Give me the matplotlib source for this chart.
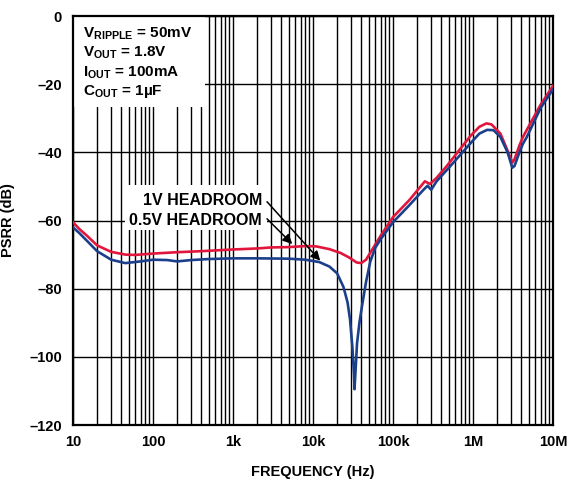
import matplotlib
matplotlib.use("Agg")
import matplotlib.pyplot as plt
from matplotlib.patches import Rectangle
from matplotlib.ticker import FixedLocator, LogLocator, NullFormatter

plt.rcParams['font.family'] = ['Liberation Sans', 'DejaVu Sans']
plt.rcParams['font.weight'] = 'bold'
plt.rcParams['mathtext.fontset'] = 'custom'
plt.rcParams['mathtext.bf'] = 'Liberation Sans:bold'
plt.rcParams['mathtext.rm'] = 'Liberation Sans:bold'

# PSRR vs frequency, 1V headroom (blue)
freq_1v = [10, 12, 15, 20, 30, 45, 70, 100, 150, 200, 300, 500, 1e3, 2e3, 5e3,
           8e3, 12e3, 16e3, 20e3, 24e3, 27e3, 29e3, 31e3, 32.5e3, 33e3, 34e3,
           35.5e3, 38e3, 41e3, 46e3, 52e3, 60e3, 70e3, 100e3, 160e3, 240e3,
           270e3, 300e3, 350e3, 500e3, 1e6, 1.2e6, 1.5e6, 1.8e6, 2.2e6, 2.7e6,
           3.1e6, 3.3e6, 3.8e6, 4.2e6, 4.7e6, 7e6, 10e6]
psrr_1v = [-62, -63.7, -66, -69, -71.5, -72.5, -72, -71.5, -71.6, -72, -71.6,
           -71.3, -71.1, -71.1, -71.2, -71.5, -72.2, -73.5, -75.5, -79.5, -84,
           -89, -97, -105, -109.5, -104, -96, -90, -85, -78, -72, -68, -65.5,
           -60.5, -55.5, -51, -49.8, -51, -48.5, -44.5, -36.5, -34.5, -33.4,
           -33.5, -35.5, -40, -44.5, -44, -40, -37.5, -35.5, -27, -21.5]

# PSRR vs frequency, 0.5V headroom (red)
freq_05v = [10, 12, 15, 20, 30, 45, 60, 100, 200, 400, 1e3, 2e3, 3e3, 5e3,
            8e3, 11e3, 16e3, 22e3, 28e3, 35e3, 40e3, 46e3, 55e3, 70e3, 100e3,
            160e3, 250e3, 290e3, 350e3, 470e3, 920e3, 1.2e6, 1.47e6, 1.7e6,
            2.2e6, 2.7e6, 3.1e6, 3.3e6, 3.8e6, 4.2e6, 4.7e6, 7e6, 10e6]
psrr_05v = [-60.5, -62.5, -64.5, -67.3, -69.2, -70, -70.1, -69.7, -69.3, -69,
            -68.5, -68.2, -67.9, -67.8, -67.5, -67.6, -68.4, -69.5, -70.8,
            -72.3, -72.5, -71.5, -68.5, -64.5, -59, -54, -48.5, -49.3, -47.5,
            -44, -35.3, -32.5, -31.5, -31.8, -34.5, -39.5, -43, -42, -38,
            -35.5, -33.4, -26, -20.5]

x_ticks = [10, 100, 1e3, 1e4, 1e5, 1e6, 1e7]
x_labels = ['10', '100', '1k', '10k', '100k', '1M', '10M']
y_ticks = [0, -20, -40, -60, -80, -100, -120]
y_labels = ['0', '\u201320', '\u201340', '\u201360', '\u201380', '\u2013100', '\u2013120']

conditions = [r'V$_{\mathbf{RIPPLE}}$ = 50mV', r'V$_{\mathbf{OUT}}$ = 1.8V',
              r'I$_{\mathbf{OUT}}$ = 100mA', r'C$_{\mathbf{OUT}}$ = 1µF']

fig = plt.figure(figsize=(5.75, 4.84), dpi=100)
ax = fig.add_axes([0.127, 0.1219, 0.8348, 0.845])

ax.plot(freq_05v, psrr_05v, color='#E2163C', lw=1.9, zorder=3,
        solid_joinstyle='round')
ax.plot(freq_1v, psrr_1v, color='#1B3F8B', lw=1.9, zorder=3,
        solid_joinstyle='round')

ax.set_xscale('log')
ax.set_xlim(10, 1e7)
ax.set_ylim(-120, 0)
ax.set_xticks(x_ticks)
ax.set_xticklabels(x_labels, fontsize=10.5, fontweight='bold')
ax.xaxis.set_minor_locator(LogLocator(base=10, subs=range(2, 10), numticks=20))
ax.xaxis.set_minor_formatter(NullFormatter())
ax.yaxis.set_major_locator(FixedLocator(y_ticks))
ax.set_yticklabels(y_labels, fontsize=10.5, fontweight='bold')
ax.tick_params(which='both', length=0)
ax.tick_params(axis='x', pad=7)
ax.tick_params(axis='y', pad=8)

ax.grid(which='major', color='black', lw=1.0)
ax.grid(which='minor', axis='x', color='black', lw=1.0)
ax.set_axisbelow(True)
for sp in ax.spines.values():
    sp.set_linewidth(1.6)

ax.set_xlabel('FREQUENCY (Hz)', fontsize=10.5, fontweight='bold', labelpad=12)
ax.set_ylabel('PSRR (dB)', fontsize=10.5, fontweight='bold', labelpad=10)

# white panel behind the test conditions
ax.add_patch(Rectangle((0, 0.7775), 0.275, 0.2225, transform=ax.transAxes,
                       facecolor='white', edgecolor='none', zorder=2))
for i, s in enumerate(conditions):
    ax.text(0.021, 0.9487 - i * 0.0475, s, transform=ax.transAxes,
            fontsize=11, fontweight='bold', va='baseline', ha='left', zorder=4)

# headroom labels with arrows
ax.add_patch(Rectangle((0.108, 0.477), 0.296, 0.110, transform=ax.transAxes,
                       facecolor='white', edgecolor='none', zorder=2))
ax.text(0.394, 0.538, '1V HEADROOM', transform=ax.transAxes, fontsize=11.5,
        fontweight='bold', ha='right', va='baseline', zorder=4)
ax.text(0.394, 0.489, '0.5V HEADROOM', transform=ax.transAxes, fontsize=11.5,
        fontweight='bold', ha='right', va='baseline', zorder=4)
arrow = dict(arrowstyle='-|>', color='black', lw=1.1, mutation_scale=14,
             shrinkA=0, shrinkB=0)
ax.annotate('', xy=(12.3e3, -71.8), xytext=(2.66e3, -54.5), arrowprops=arrow, zorder=5)
ax.annotate('', xy=(5.5e3, -66.9), xytext=(2.66e3, -59.5), arrowprops=arrow, zorder=5)

fig.savefig('out.png', dpi=100)
